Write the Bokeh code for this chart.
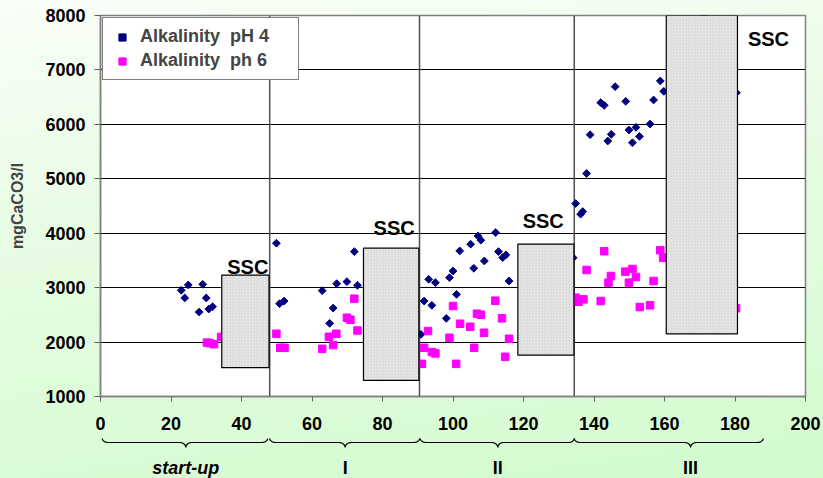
import numpy as np
from bokeh.plotting import figure
from bokeh.models import Range1d, FixedTicker
from bokeh.layouts import column
from bokeh.embed import file_html
from bokeh.resources import INLINE
from bokeh.core.properties import value

FONT = "Liberation Sans"

# ---------------- data ----------------
ph4_x = [22.9, 24.9, 23.9, 29.0, 30.0, 28.0, 30.7, 31.8,
         49.9, 50.8, 52.1, 62.9, 67.0, 69.9, 72.9, 72.0, 66.0, 65.0,
         91.8, 94.0, 90.9, 93.1, 95.0, 98.1, 99.0, 100.0, 101.0, 101.9,
         105.0, 105.9, 107.1, 107.9, 108.9, 112.1, 112.9, 114.1, 115.0, 115.9,
         134.1, 134.8, 136.2, 136.8, 137.9, 138.9, 141.9, 142.9, 143.9, 144.9,
         146.0, 149.0, 149.9, 150.9, 151.9, 152.9, 155.9, 156.9, 158.8, 159.8,
         171.0, 180.4]
ph4_y = [2951, 3049, 2810, 3061, 2810, 2552, 2607, 2650,
         3816, 2705, 2754, 2944, 3073, 3110, 3043, 3662, 2625, 2344,
         2754, 2675, 2141, 3153, 3092, 2436, 3183, 3306, 2877, 3675,
         3798, 3356, 3951, 3872, 3490, 4012, 3662, 3552, 3601, 3122,
         3550, 4545, 4350, 4398, 5097, 5810, 6399, 6349, 5694, 5816,
         6693, 6423, 5896, 5662, 5944, 5779, 6006, 6448, 6798, 6607,
         7990, 6580]

ph6_x = [30.2, 31.0, 32.2, 34.2,
         49.9, 51.0, 52.2, 62.9, 64.8, 66.9, 66.0, 69.9, 70.9, 72.0, 72.9,
         92.9, 91.8, 94.0, 95.0, 91.2, 100.0, 99.0, 102.0, 100.9, 104.9,
         106.0, 106.8, 107.9, 108.8, 112.0, 113.9, 115.9, 114.8,
         134.8, 135.6, 137.0, 137.9, 141.9, 142.9, 144.1, 144.8, 148.9,
         149.9, 150.9, 151.9, 153.0, 155.9, 156.9, 158.8, 159.6, 180.3]
ph6_y = [1990, 1980, 1960, 2095,
         2153, 1895, 1895, 1876, 2097, 2153, 1944, 2447, 2410, 2797, 2213,
         2202, 1895, 1816, 1792, 1600, 2662, 2079, 2337, 1600, 2281,
         1895, 2521, 2502, 2171, 2760, 2436, 2061, 1729,
         2815, 2741, 2785, 3325, 2754, 3669, 3092, 3214, 3294,
         3092, 3343, 3196, 2644, 2675, 3122, 3688, 3551, 2620]

ssc_left = [34.4, 74.6, 118.4, 160.5]
ssc_right = [47.8, 90.3, 134.3, 180.7]
ssc_bottom = [1530, 1295, 1760, 2150]
ssc_top = [3230, 3725, 3800, 8000]
ssc_label_x = [41.8, 83.3, 125.6, 189.5]
ssc_label_y = [3386, 4092, 4227, 7571]
ssc_labels = ["SSC", "SSC", "SSC", "SSC"]

phase_separators = [48.0, 90.5, 134.4]
phase_start = [0.5, 48.0, 90.7, 134.4]
phase_end = [47.4, 90.5, 134.4, 188.0]
phase_tip = [24.2, 69.4, 112.7, 167.4]
phase_names = ["start-up", "I", "II", "III"]

x_ticks = [0, 20, 40, 60, 80, 100, 120, 140, 160, 180, 200]
y_ticks = [1000, 2000, 3000, 4000, 5000, 6000, 7000, 8000]

# ---------------- main chart ----------------
p = figure(width=823, height=436, x_range=Range1d(0, 200), y_range=Range1d(1000, 8000),
           output_backend="svg", toolbar_location=None,
           min_border_left=100, min_border_right=18, min_border_top=15, min_border_bottom=40)
p.border_fill_color = None
p.background_fill_color = "white"
p.outline_line_color = "#808080"
p.outline_line_width = 1.5

p.xgrid.visible = False
p.ygrid.grid_line_color = "black"
p.ygrid.grid_line_width = 1
p.ygrid.ticker = FixedTicker(ticks=y_ticks)

for ax in (p.xaxis, p.yaxis):
    ax.axis_line_color = "#808080"
    ax.axis_line_width = 1.5
    ax.major_tick_line_color = "#606060"
    ax.major_tick_in = 0
    ax.minor_tick_line_color = None
    ax.major_label_text_font = FONT
    ax.major_label_text_font_style = "bold"
    ax.major_label_text_color = "black"

p.xaxis.ticker = FixedTicker(ticks=x_ticks)
p.xaxis.major_tick_out = 5
p.xaxis.major_label_text_font_size = "18px"
p.xaxis.major_label_standoff = 15

p.yaxis.ticker = FixedTicker(ticks=y_ticks)
p.yaxis.major_tick_out = 6
p.yaxis.major_label_text_font_size = "18px"
p.yaxis.major_label_standoff = 9
p.yaxis.axis_label = "mgCaCO3/l"
p.yaxis.axis_label_text_font = FONT
p.yaxis.axis_label_text_font_style = "bold"
p.yaxis.axis_label_text_font_size = "16px"
p.yaxis.axis_label_standoff = 16

# phase separators
p.segment(x0=phase_separators, x1=phase_separators, y0=[1000] * 3, y1=[8000] * 3,
          line_color="#505050", line_width=1.5)

r4 = p.scatter(ph4_x, ph4_y, marker="square", angle=np.pi / 4, size=5.5,
               fill_color="#000080", line_color="#000080",
               legend_label="Alkalinity  pH 4")
r6 = p.scatter(ph6_x, ph6_y, marker="square", size=7.5,
               fill_color="#ff00ff", line_color="#ff00ff",
               legend_label="Alkalinity  ph 6")

p.quad(left=ssc_left, right=ssc_right, bottom=ssc_bottom, top=ssc_top,
       fill_color="#ededed", line_color="black", line_width=1.2,
       hatch_pattern="/", hatch_color="#c8c8c8", hatch_scale=3, hatch_weight=0.6)

p.text(x=ssc_label_x, y=ssc_label_y, text=ssc_labels, text_font=value(FONT),
       text_font_style="bold", text_font_size="20px", text_align="center",
       text_baseline="alphabetic", text_color="black")

lg = p.legend[0]
lg.location = "top_left"
lg.margin = 2
lg.padding = 8
lg.spacing = 3
lg.glyph_width = 22
lg.glyph_height = 18
lg.label_height = 18
lg.label_width = 150
lg.label_standoff = 7
lg.label_text_font = FONT
lg.label_text_font_style = "bold"
lg.label_text_font_size = "18px"
lg.border_line_color = "black"
lg.border_line_width = 1
lg.background_fill_color = "white"
lg.background_fill_alpha = 1

# ---------------- phase braces below the axis ----------------
q = figure(width=823, height=42, x_range=p.x_range, y_range=Range1d(42, 0),
           output_backend="svg", toolbar_location=None,
           x_axis_type=None, y_axis_type=None,
           min_border_left=100, min_border_right=18, min_border_top=0, min_border_bottom=0)
q.border_fill_color = None
q.background_fill_color = None
q.outline_line_color = None
q.grid.visible = False


def brace(xa, xb, xt, r=1.7, y_end=2.0, y_line=6.0, y_tip=11.0):
    t = np.linspace(0, np.pi / 2, 12)
    s = t[::-1]
    h1 = y_line - y_end
    h2 = y_tip - y_line
    xs = np.concatenate([xa + r - r * np.cos(t),
                         xt - r + r * np.sin(t),
                         xt + r - r * np.sin(s),
                         xb - r + r * np.cos(s)])
    ys = np.concatenate([y_end + h1 * np.sin(t),
                         y_tip - h2 * np.cos(t),
                         y_tip - h2 * np.cos(s),
                         y_end + h1 * np.sin(s)])
    return list(xs), list(ys)


bx, by = [], []
for a, b, tp in zip(phase_start, phase_end, phase_tip):
    xs, ys = brace(a, b, tp)
    bx.append(xs)
    by.append(ys)
q.multi_line(bx, by, line_color="black", line_width=1.2)

q.text(x=phase_tip[:1], y=[31.5], text=phase_names[:1], text_font=value(FONT),
       text_font_style="bold italic", text_font_size="18px", text_align="center",
       text_baseline="middle", text_color="black")
q.text(x=phase_tip[1:], y=[31.5] * 3, text=phase_names[1:], text_font=value(FONT),
       text_font_style="bold", text_font_size="18px", text_align="center",
       text_baseline="middle", text_color="black")

layout = column(p, q, spacing=0,
                styles={"background": "linear-gradient(172deg, #f9fef7 0%, #e6fce2 45%, #d2fbce 100%)"})

open("out.html", "w").write(file_html(layout, INLINE))
